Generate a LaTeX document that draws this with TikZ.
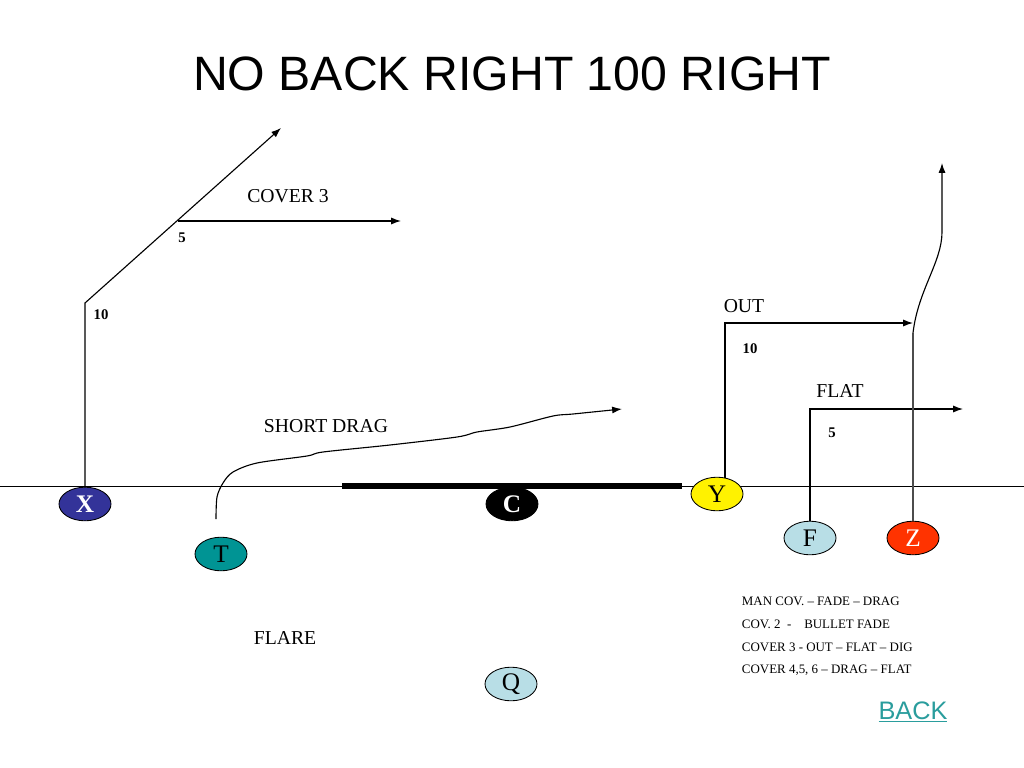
\documentclass[tikz,border=0pt]{standalone}
\usepackage{fontspec}
\setmainfont{Liberation Serif}
\newfontfamily\titlefont{Liberation Sans}
\usetikzlibrary{arrows.meta,shapes.geometric}
\definecolor{xblue}{HTML}{333399}
\definecolor{tteal}{HTML}{009494}
\definecolor{flblue}{HTML}{B8DEE6}
\definecolor{zred}{HTML}{FF3300}
\definecolor{backteal}{HTML}{2A9D9D}
\begin{document}
\begin{tikzpicture}[x=0.025cm,y=-0.025cm,
  player/.style={ellipse,draw=black,line width=0.6pt,minimum width=1.3cm,minimum height=0.84cm,inner sep=0pt,font=\fontsize{18}{18}\selectfont},
  route/.style={line width=0.8pt},
  lbl/.style={font=\fontsize{14}{14}\selectfont},
  yds/.style={font=\bfseries\fontsize{10.5}{10.5}\selectfont},
  note/.style={anchor=west,font=\fontsize{9.2}{10}\selectfont},
  >={Latex[length=7pt,width=5pt]}]
  \useasboundingbox (0,0) rectangle (1024,768);
  % Title
  \node[font=\titlefont\fontsize{34.3}{34.3}\selectfont] (title) at (512,74) {NO BACK RIGHT 100 RIGHT};
  % Line of scrimmage
  \draw[line width=0.6pt] (0,486) -- (1024,486);
  \draw[line width=4.5pt] (342,486) -- (682,486);
  % Players
  \node[player,fill=xblue,text=white,font=\bfseries\fontsize{18}{18}\selectfont] (X) at (85,504) {X};
  \node[player,fill=tteal] (T) at (221,554) {T};
  \node[player,fill=black,text=white,font=\bfseries\fontsize{18}{18}\selectfont] (C) at (512,504) {C};
  \node[player,fill=yellow] (Y) at (717,494) {Y};
  \node[player,fill=flblue] (F) at (810,538) {F};
  \node[player,fill=zred,text=white] (Z) at (913,538) {Z};
  \node[player,fill=flblue] (Q) at (511,684) {Q};
  % X route
  \coordinate (xbreak) at (85,303);
  \coordinate (xcut) at (178,221);
  \coordinate (xpost) at (281,128);
  \coordinate (xout) at (401,221);
  \draw[route,->] (X.north) -- (xbreak) -- (xpost);
  \draw[route,->] (xcut) -- (xout);
  \node[yds] (x10) at (101,315) {10};
  \node[yds] (x5) at (182,238) {5};
  \node[lbl] (cover) at (288,196) {COVER 3};
  % Y route
  \coordinate (ystart) at (725,478);
  \coordinate (ybreak) at (725,323);
  \coordinate (yout) at (913,323);
  \draw[route,->] (ystart) -- (ybreak) -- (yout);
  \node[lbl] (out) at (744,306) {OUT};
  \node[yds] (y10) at (750,349) {10};
  % F route
  \coordinate (fbreak) at (810,409);
  \coordinate (fflat) at (963,409);
  \draw[route,->] (F.north) -- (fbreak) -- (fflat);
  \node[lbl] (flat) at (840,391) {FLAT};
  \node[yds] (f5) at (832,433) {5};
  % Z route
  \coordinate (zbend) at (913,333);
  \coordinate (zfade) at (942,163);
  \draw[route,draw=black!70] (Z.north) -- (zbend);
  \draw[route,->] (zbend) .. controls (918,290) and (942,262) .. (942,232) -- (zfade);
  % T route
  \coordinate (tstart) at (216,519);
  \coordinate (tdrag) at (622,409);
  \draw[route,->] plot[smooth,tension=0.5] coordinates {(tstart) (217,497) (223,483) (233,472) (257,463) (307,456) (323,452) (390,445) (457,437) (477,432) (510,427) (553,416) (573,414) (tdrag)};
  \node[lbl] (drag) at (326,426) {SHORT DRAG};
  \node[lbl] (flare) at (285,638) {FLARE};
  % Coverage notes
  \node[note] (n1) at (737,601) {MAN COV. -- FADE -- DRAG};
  \node[note] (n2) at (737,624) {COV. 2 \ -\ \ \ \ BULLET FADE};
  \node[note] (n3) at (737,647) {COVER 3 - OUT -- FLAT -- DIG};
  \node[note] (n4) at (737,670) {COVER 4,5, 6 -- DRAG -- FLAT};
  \node[text=backteal,font=\titlefont\fontsize{18}{18}\selectfont] (back) at (913,712) {\underline{BACK}};
\end{tikzpicture}
\end{document}
